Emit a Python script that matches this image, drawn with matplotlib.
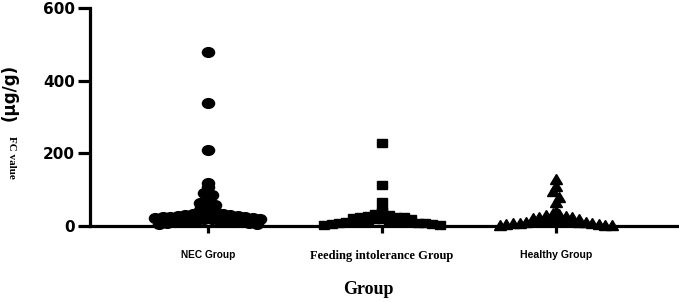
import numpy as np
import matplotlib
matplotlib.use("Agg")
import matplotlib.pyplot as plt
from matplotlib.markers import MarkerStyle
from matplotlib.transforms import Affine2D

# ---- data ----
groups = ["NEC Group", "Feeding intolerance Group", "Healthy Group"]
nec = [480, 338, 209, 118, 107, 91, 85, 72, 63, 58, 50, 45, 40, 38, 36, 35, 33,
       32, 30, 30, 28, 27, 26, 25, 24, 22, 21, 20, 19, 18, 17, 16, 15, 14, 13,
       12, 11, 10, 9, 8, 6, 5]
feeding = [228, 113, 66, 45, 38, 34, 30, 28, 26, 25, 24, 22, 20, 19, 18, 17, 16,
           15, 14, 13, 12, 11, 10, 9, 8, 7, 6, 5, 4, 3]
healthy = [130, 110, 95, 80, 65, 40, 35, 32, 30, 28, 26, 24, 22, 20, 19, 18, 17,
           16, 15, 14, 13, 12, 11, 10, 9, 8, 7, 6, 5, 4, 3, 2]
yticks = [0, 200, 400, 600]

W, H, DPI = 679, 302, 100
fig = plt.figure(figsize=(W / DPI, H / DPI), dpi=DPI)
ax = fig.add_axes([90 / W, (H - 226) / H, 589 / W, 218 / H])
ax.set_xlim(0.322, 3.707)
ax.set_ylim(0, 600)

for s in ["top", "right"]:
    ax.spines[s].set_visible(False)
for s in ["left", "bottom"]:
    ax.spines[s].set_linewidth(2.3)
    ax.spines[s].set_zorder(1)

ax.set_yticks(yticks)
ax.set_yticklabels([str(t) for t in yticks], fontfamily="DejaVu Sans",
                   fontweight="bold", fontsize=11)
ax.tick_params(axis="y", length=9, width=2.3, pad=2)
ax.set_xticks([1, 2, 3])
ax.set_xticklabels(groups)
ax.tick_params(axis="x", length=5, width=2.3, pad=12)
fonts = [("Liberation Sans", 7.3), ("Liberation Serif", 9), ("Liberation Sans", 7.6)]
for lab, (fam, sz) in zip(ax.get_xticklabels(), fonts):
    lab.set_fontfamily(fam)
    lab.set_fontsize(sz)
    lab.set_fontweight("bold")

fig.canvas.draw()


def swarm(values, center, binh, spacing):
    """GraphPad-like scatter: bin by pixel height, spread side by side."""
    vals = np.asarray(values, float)
    disp = ax.transData.transform(np.column_stack([np.full(len(vals), center), vals]))
    cx = disp[0, 0]
    yd = disp[:, 1]
    y0 = ax.transData.transform((center, 0))[1]
    bins = np.floor((yd - y0) / binh).astype(int)
    xs = np.zeros(len(vals))
    for b in np.unique(bins):
        idx = np.where(bins == b)[0]
        idx = idx[np.argsort(vals[idx])[::-1]]
        n = len(idx)
        offs = (np.arange(n) - (n - 1) / 2.0) * spacing
        order = np.argsort(np.abs(offs + 0.01))
        for k, j in zip(order, idx):
            xs[j] = cx + offs[k]
    data = ax.transData.inverted().transform(np.column_stack([xs, yd]))
    return data[:, 0]


stretch = Affine2D().scale(1.25, 1.0)
specs = [(nec, "o", 7.0, 7.0, 7.5), (feeding, "s", 6.3, 7.0, 7.2),
         (healthy, "^", 7.0, 7.0, 6.6)]
for i, (vals, m, ms, binh, sp) in enumerate(specs):
    xs = swarm(vals, i + 1, binh, sp)
    ax.plot(xs, vals, linestyle="none", marker=MarkerStyle(m, transform=stretch),
            markersize=ms, color="black", clip_on=False, zorder=3)

fig.text(10 / W, 1 - 92 / H, "(μg/g)", rotation=90, ha="center", va="center",
         fontfamily="DejaVu Sans", fontweight="bold", fontsize=12)
fig.text(11 / W, 1 - 157 / H, "FC value", rotation=270, ha="center", va="center",
         fontfamily="Liberation Serif", fontweight="bold", fontsize=8)
fig.text(368 / W, 1 - 289 / H, "Group", ha="center", va="center",
         fontfamily="Liberation Serif", fontweight="bold", fontsize=13)

fig.savefig("out.png", dpi=DPI)
